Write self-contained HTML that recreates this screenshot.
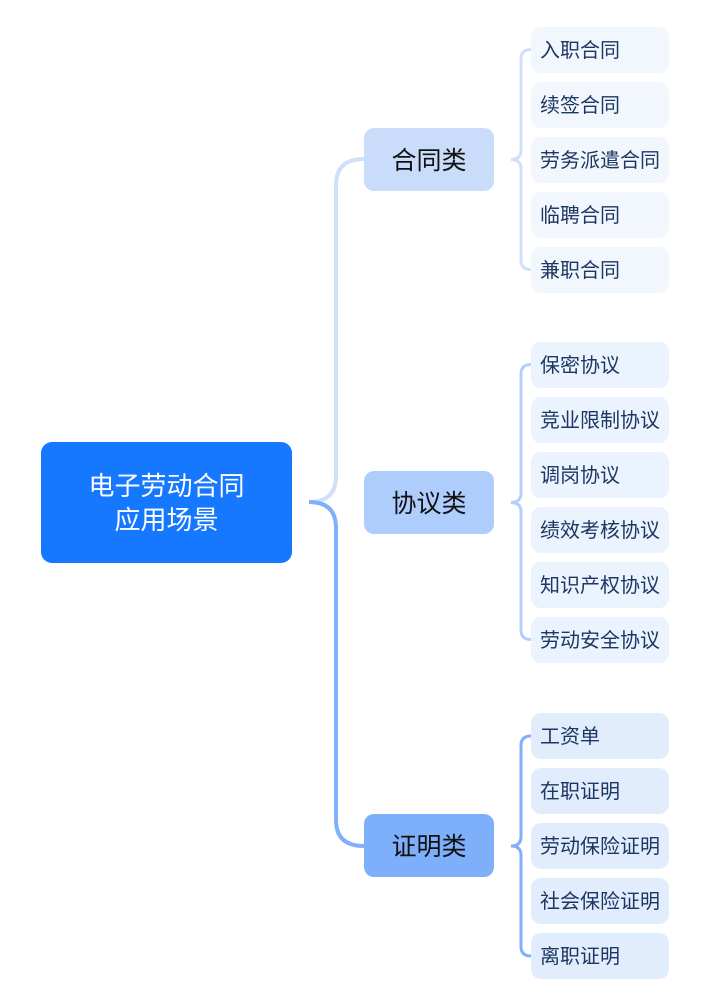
<!DOCTYPE html>
<html><head><meta charset="utf-8"><style>
html,body{margin:0;padding:0;background:#fff;}
body{width:715px;height:1002px;position:relative;overflow:hidden;font-family:"Liberation Sans","Noto Sans CJK SC",sans-serif;}
.n{position:absolute;box-sizing:border-box;}
.root{left:41px;top:442px;width:251px;height:121px;background:#1677ff;border-radius:11px;color:#fff;font-size:26px;line-height:34px;text-align:center;padding-top:27px;}
.cat{left:364px;width:130px;height:63px;border-radius:10px;font-size:25px;line-height:63px;text-align:center;color:#111;padding-top:2px;}
.leaf{left:531px;width:138px;height:46px;border-radius:10px;font-size:20px;line-height:46px;padding-left:9px;padding-top:1px;color:#1d3763;white-space:nowrap;}
.g1{background:#f2f7fe;}
.g2{background:#ebf3fe;}
.g3{background:#e1ecfd;}
svg{position:absolute;left:0;top:0;}
</style></head><body>
<svg width="715" height="1002" viewBox="0 0 715 1002" fill="none">
<path d="M309,502 Q336,502 336,476 V185 Q336,159 364,159" stroke="#cfe0fb" stroke-width="4"/>
<path d="M309,502 Q336,502 336,528 V820 Q336,846 364,846" stroke="#80b0fb" stroke-width="4"/>
<path d="M511,159.5 Q521,159.5 521,150 V59 Q521,49.5 531,49.5 M511,159.5 Q521,159.5 521,169 V260 Q521,269.5 531,269.5" stroke="#cfe0fb" stroke-width="3"/>
<path d="M511,502.5 Q521,502.5 521,493 V374 Q521,364.5 531,364.5 M511,502.5 Q521,502.5 521,512 V630 Q521,639.5 531,639.5" stroke="#b3d0fd" stroke-width="3"/>
<path d="M511,846 Q521,846 521,836.5 V745.5 Q521,736 531,736 M511,846 Q521,846 521,855.5 V946.5 Q521,956 531,956" stroke="#80b0fb" stroke-width="3"/>
</svg>
<div class="n root">电子劳动合同<br>应用场景</div>
<div class="n cat" style="top:128px;background:#c9ddfb;">合同类</div>
<div class="n cat" style="top:471px;background:#aecdfd;">协议类</div>
<div class="n cat" style="top:814px;background:#7eaffb;">证明类</div>

<div class="n leaf g1" style="top:27px;">入职合同</div>
<div class="n leaf g1" style="top:82px;">续签合同</div>
<div class="n leaf g1" style="top:137px;">劳务派遣合同</div>
<div class="n leaf g1" style="top:192px;">临聘合同</div>
<div class="n leaf g1" style="top:247px;">兼职合同</div>

<div class="n leaf g2" style="top:342px;">保密协议</div>
<div class="n leaf g2" style="top:397px;">竞业限制协议</div>
<div class="n leaf g2" style="top:452px;">调岗协议</div>
<div class="n leaf g2" style="top:507px;">绩效考核协议</div>
<div class="n leaf g2" style="top:562px;">知识产权协议</div>
<div class="n leaf g2" style="top:617px;">劳动安全协议</div>

<div class="n leaf g3" style="top:713px;">工资单</div>
<div class="n leaf g3" style="top:768px;">在职证明</div>
<div class="n leaf g3" style="top:823px;">劳动保险证明</div>
<div class="n leaf g3" style="top:878px;">社会保险证明</div>
<div class="n leaf g3" style="top:933px;">离职证明</div>
</body></html>
